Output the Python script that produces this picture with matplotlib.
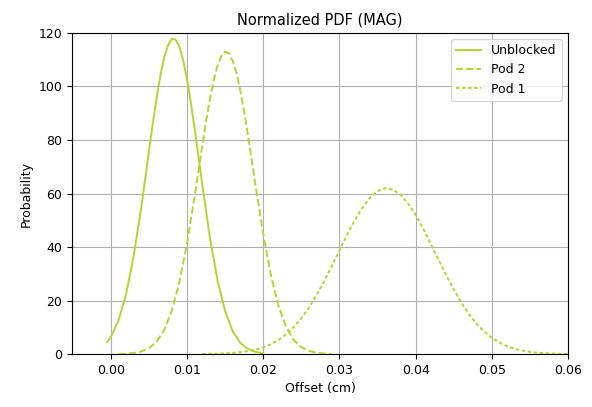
import matplotlib
matplotlib.use('Agg')
import matplotlib.pyplot as plt

# Datos
x_unblocked = [-0.0005, 0.000, 0.001, 0.002, 0.003, 0.004, 0.005, 0.0055, 0.006, 0.0065,
               0.007, 0.0075, 0.008, 0.0085, 0.009, 0.0095, 0.010, 0.0105, 0.011, 0.0115,
               0.012, 0.013, 0.014, 0.015, 0.016, 0.017, 0.018, 0.019, 0.020]
y_unblocked = [4.5, 6.4, 12.5, 22.4, 36.7, 55.0, 75.8, 86.1, 95.7, 104.1,
               110.9, 115.5, 117.8, 117.5, 114.8, 109.7, 102.6, 93.9, 84.1, 73.7,
               63.2, 43.5, 27.5, 16.0, 8.5, 4.1, 1.9, 0.8, 0.3]

x_pod2 = [0.001, 0.002, 0.003, 0.004, 0.005, 0.006, 0.007, 0.008, 0.009, 0.010,
          0.011, 0.012, 0.0125, 0.013, 0.0135, 0.014, 0.0145, 0.015, 0.0155, 0.016,
          0.0165, 0.017, 0.0175, 0.018, 0.019, 0.020, 0.021, 0.022, 0.023, 0.024,
          0.025, 0.026, 0.027, 0.028, 0.029]
y_pod2 = [0.05, 0.15, 0.4, 1.0, 2.2, 4.6, 9.0, 16.2, 26.9, 41.4,
          59.1, 78.0, 87.1, 95.3, 102.4, 107.8, 111.4, 113.0, 112.3, 109.5,
          104.8, 98.3, 90.5, 81.7, 62.8, 44.8, 29.5, 18.0, 10.2, 5.3,
          2.6, 1.2, 0.5, 0.2, 0.07]

x_pod1 = [0.012, 0.014, 0.016, 0.018, 0.019, 0.020, 0.021, 0.022, 0.023, 0.024,
          0.025, 0.026, 0.027, 0.028, 0.029, 0.030, 0.031, 0.032, 0.033, 0.034,
          0.035, 0.036, 0.037, 0.038, 0.039, 0.040, 0.041, 0.042, 0.043, 0.044,
          0.045, 0.046, 0.047, 0.048, 0.049, 0.050, 0.051, 0.052, 0.053, 0.054,
          0.055, 0.056, 0.057, 0.058, 0.059, 0.060]
y_pod1 = [0.05, 0.15, 0.43, 1.1, 1.7, 2.5, 3.7, 5.3, 7.4, 10.1,
          13.4, 17.4, 22.1, 27.3, 32.9, 38.8, 44.6, 50.0, 54.7, 58.4,
          60.9, 62.0, 61.5, 59.6, 56.3, 52.0, 46.8, 41.1, 35.3, 29.5,
          24.1, 19.2, 14.9, 11.3, 8.4, 6.1, 4.3, 2.9, 2.0, 1.3,
          0.8, 0.5, 0.3, 0.2, 0.1, 0.06]

color = '#b5d334'

fig = plt.figure(figsize=(5.92, 4.07), dpi=100)
ax = fig.add_axes([0.1216, 0.130, 0.838, 0.789])

ax.plot(x_unblocked, y_unblocked, color=color, lw=1.4, label='Unblocked')
ax.plot(x_pod2, y_pod2, color=color, lw=1.4, linestyle='--', label='Pod 2')
ax.plot(x_pod1, y_pod1, color=color, lw=1.4, linestyle=(0, (1.8, 1.3)), label='Pod 1')

ax.set_xlim(-0.0051, 0.06)
ax.set_ylim(0, 120)
ax.set_xticks([0.00, 0.01, 0.02, 0.03, 0.04, 0.05, 0.06])
ax.set_xticklabels(['0.00', '0.01', '0.02', '0.03', '0.04', '0.05', '0.06'])
ax.set_yticks([0, 20, 40, 60, 80, 100, 120])
ax.grid(True, color='#b0b0b0', lw=0.8)
ax.tick_params(labelsize=9)

ax.set_title('Normalized PDF (MAG)', fontsize=10.5)
ax.set_xlabel('Offset (cm)', fontsize=9)
ax.set_ylabel('Probability', fontsize=9)
ax.legend(loc='upper right', fontsize=9)

fig.savefig('out.png', dpi=100)
